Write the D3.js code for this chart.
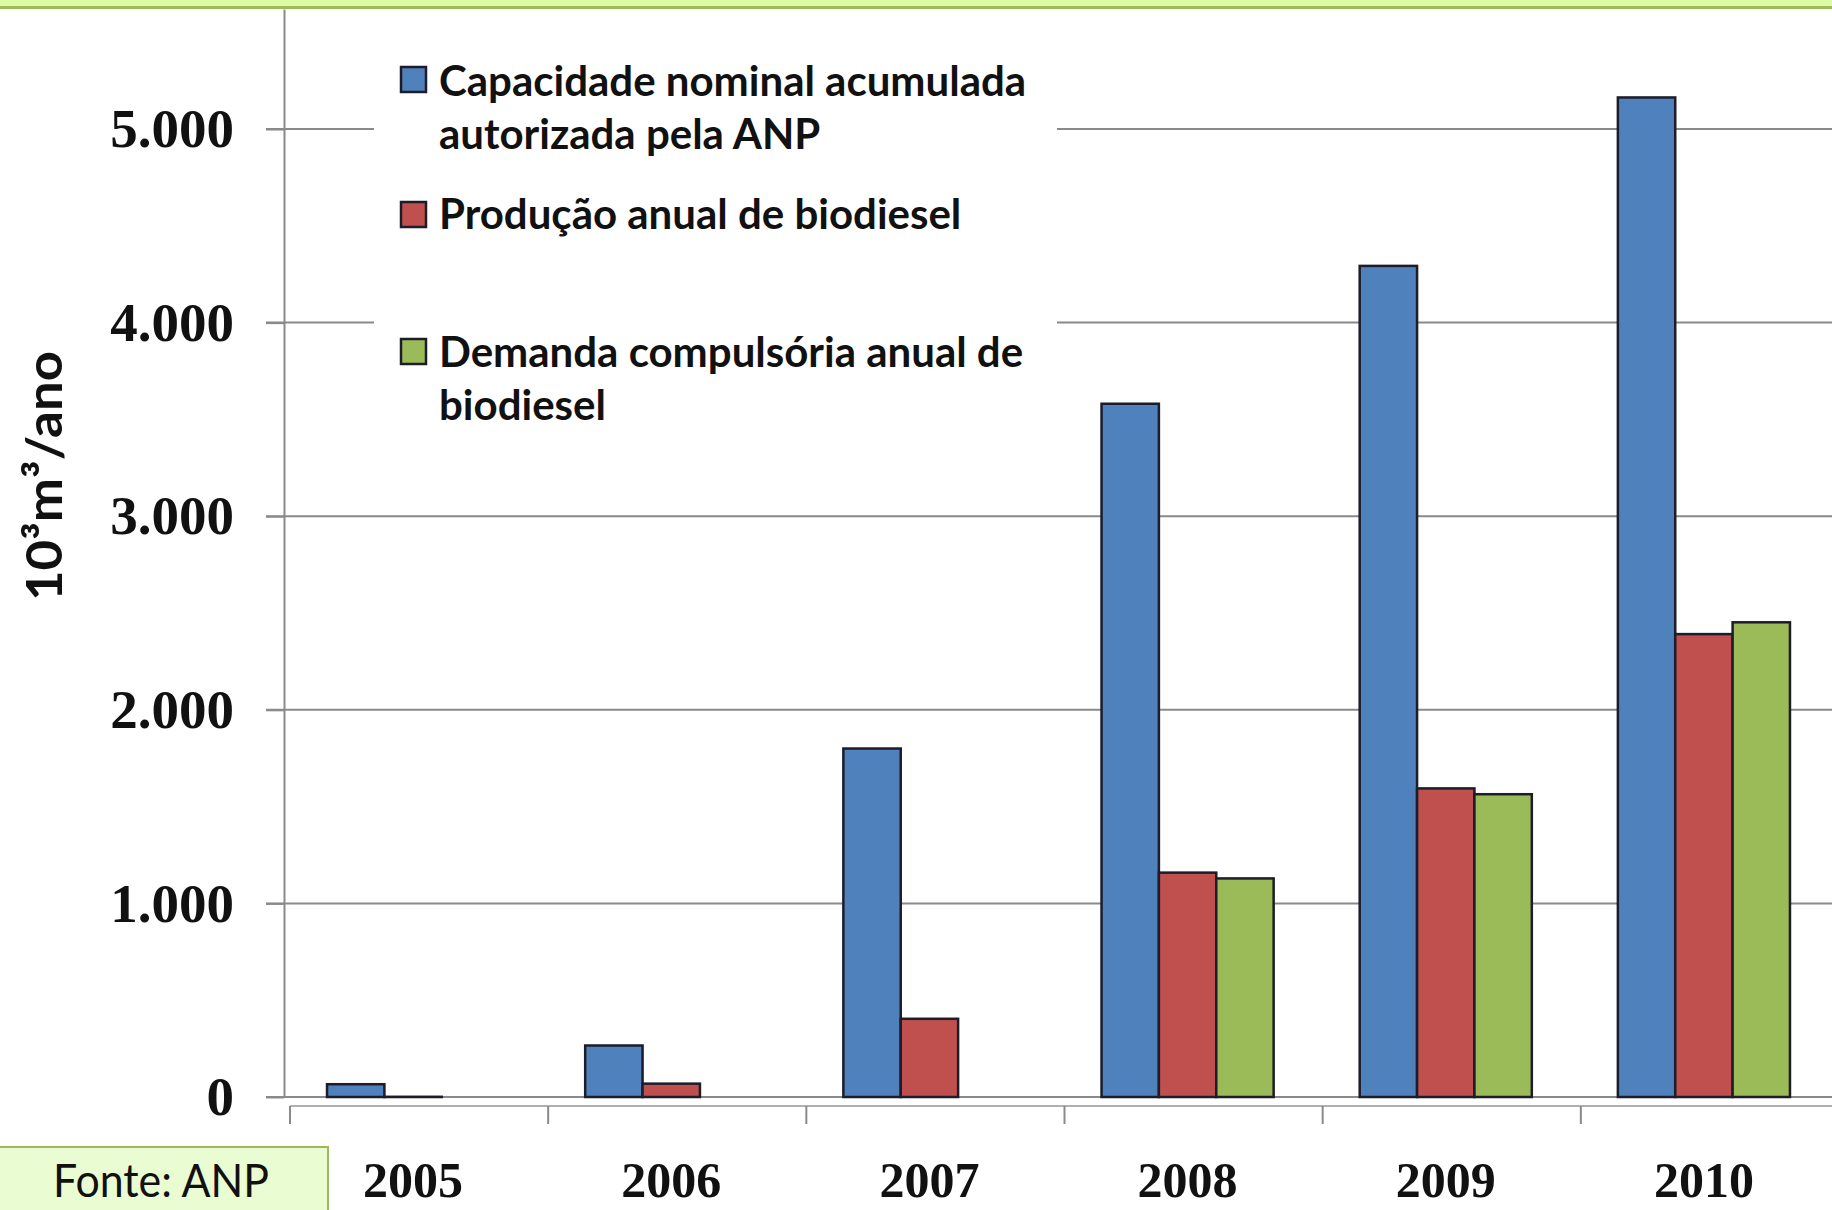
<!DOCTYPE html>
<html>
<head>
<meta charset="utf-8">
<script src="https://cdn.jsdelivr.net/npm/d3@7"></script>
<style>
  body { margin: 0; background: #fff; }
  svg { display: block; }
</style>
</head>
<body>
<div id="chart"></div>
<script>
// chart data (10^3 m3 / ano)
var years = ["2005", "2006", "2007", "2008", "2009", "2010"];
var seriesKeys = ["capacidade", "producao", "demanda"];
var capacidade = [66, 266, 1800, 3581, 4293, 5163];
var producao = [1, 69, 404, 1159, 1594, 2391];
var demanda = [null, null, null, 1129, 1564, 2452];
var yTicks = [0, 1000, 2000, 3000, 4000, 5000];
var legendLines = [
  ["Capacidade nominal acumulada", "autorizada pela ANP"],
  ["Produção anual de biodiesel"],
  ["Demanda compulsória anual de", "biodiesel"]
];

var colors = { capacidade: "#4f81bd", producao: "#c0504d", demanda: "#9bbb59" };

var svgWidth = 1832;
var svgHeight = 1210;

// plot area
var plotLeft = 284;
var plotRight = 1833;
var zeroY = 1097;
var topY = 9;

var svg = d3.select("#chart")
  .append("svg")
  .attr("width", svgWidth)
  .attr("height", svgHeight);

svg.append("rect")
  .attr("width", svgWidth)
  .attr("height", svgHeight)
  .attr("fill", "#fff");

// top green band
svg.append("rect")
  .attr("x", 0).attr("y", 0)
  .attr("width", svgWidth).attr("height", 7)
  .attr("fill", "#dbfaa3");
svg.append("line")
  .attr("x1", 0).attr("x2", svgWidth)
  .attr("y1", 7.5).attr("y2", 7.5)
  .attr("stroke", "#9bbb59")
  .attr("stroke-width", 3);

// scales
var x0 = d3.scaleBand()
  .domain(years)
  .range([plotLeft, plotRight])
  .paddingInner(0)
  .paddingOuter(0);

var x1 = d3.scaleBand()
  .domain(seriesKeys)
  .range([0, x0.bandwidth()])
  .paddingInner(0)
  .paddingOuter(0.75);

var y = d3.scaleLinear()
  .domain([0, 5620])
  .range([zeroY, topY]);

var ptBR = d3.formatLocale({ decimal: ",", thousands: ".", grouping: [3], currency: ["R$", ""] });
var fmt = ptBR.format(",d");

// gridlines
svg.append("g")
  .selectAll("line")
  .data(yTicks)
  .enter()
  .append("line")
  .attr("x1", plotLeft - 18)
  .attr("x2", svgWidth)
  .attr("y1", d => y(d))
  .attr("y2", d => y(d))
  .attr("stroke", "#8a8a8a")
  .attr("stroke-width", 2);

// lower category axis (slightly offset, as in the original)
var catAxisY = 1106;
var catShift = 6;
svg.append("line")
  .attr("x1", plotLeft + catShift)
  .attr("x2", svgWidth)
  .attr("y1", catAxisY)
  .attr("y2", catAxisY)
  .attr("stroke", "#b0b0b0")
  .attr("stroke-width", 2);

svg.append("g")
  .selectAll("line")
  .data(years)
  .enter()
  .append("line")
  .attr("x1", d => x0(d) + catShift)
  .attr("x2", d => x0(d) + catShift)
  .attr("y1", catAxisY)
  .attr("y2", catAxisY + 18)
  .attr("stroke", "#8a8a8a")
  .attr("stroke-width", 2);

// legend background hides the gridlines
svg.append("rect")
  .attr("x", 374).attr("y", 47)
  .attr("width", 683).attr("height", 385)
  .attr("fill", "#fff");

// bars
var rows = years.map(function(yr, i) {
  return { year: yr, capacidade: capacidade[i], producao: producao[i], demanda: demanda[i] };
});

var groups = svg.append("g")
  .selectAll("g")
  .data(rows)
  .enter()
  .append("g")
  .attr("transform", d => `translate(${x0(d.year)},0)`);

groups.selectAll("rect")
  .data(d => seriesKeys.filter(k => d[k] != null).map(k => ({ key: k, value: d[k] })))
  .enter()
  .append("rect")
  .attr("x", d => x1(d.key))
  .attr("y", d => y(d.value))
  .attr("width", x1.bandwidth())
  .attr("height", d => y(0) - y(d.value))
  .attr("fill", d => colors[d.key])
  .attr("stroke", "#1c1c2a")
  .attr("stroke-width", 2.5);

// y axis
var leftAxis = d3.axisLeft(y)
  .tickValues(yTicks)
  .tickSize(18)
  .tickSizeOuter(0)
  .tickPadding(32)
  .tickFormat(fmt);

var yAxis = svg.append("g")
  .attr("transform", `translate(${plotLeft},0)`)
  .call(leftAxis);

yAxis.select(".domain")
  .attr("stroke", "#8a8a8a")
  .attr("stroke-width", 2);
yAxis.selectAll(".tick line")
  .attr("stroke", "#8a8a8a")
  .attr("stroke-width", 2);
yAxis.selectAll(".tick text")
  .attr("fill", "#111")
  .style("font-family", "'Liberation Serif', 'DejaVu Serif', serif")
  .style("font-weight", "bold")
  .style("font-size", "55px");

// y axis title
svg.append("text")
  .attr("transform", "translate(62,476) rotate(-90)")
  .attr("text-anchor", "middle")
  .attr("fill", "#111")
  .attr("textLength", 250)
  .attr("lengthAdjust", "spacingAndGlyphs")
  .style("font-family", "Lato, 'Open Sans', sans-serif")
  .style("font-weight", "bold")
  .style("font-size", "50px")
  .text("10³m³/ano");

// x labels
svg.append("g")
  .selectAll("text")
  .data(years)
  .enter()
  .append("text")
  .attr("x", d => x0(d) + x0.bandwidth() / 2)
  .attr("y", 1197)
  .attr("text-anchor", "middle")
  .attr("fill", "#111")
  .style("font-family", "'Liberation Serif', 'DejaVu Serif', serif")
  .style("font-weight", "bold")
  .style("font-size", "50px")
  .text(d => d);

// legend
var legendSwatchY = [67, 202, 339];
var legendBaseY = [[96, 149], [229], [367, 420]];
var legend = svg.append("g");
seriesKeys.forEach(function(key, i) {
  legend.append("rect")
    .attr("x", 401).attr("y", legendSwatchY[i])
    .attr("width", 25).attr("height", 25)
    .attr("fill", colors[key])
    .attr("stroke", "#1c1c2a")
    .attr("stroke-width", 2.5);
  legendLines[i].forEach(function(line, j) {
    legend.append("text")
      .attr("x", 439)
      .attr("y", legendBaseY[i][j])
      .attr("fill", "#111")
      .style("font-family", "Lato, 'Open Sans', sans-serif")
      .style("font-weight", "bold")
      .style("font-size", "42px")
      .text(line);
  });
});

// source box
svg.append("rect")
  .attr("x", -2).attr("y", 1147)
  .attr("width", 330).attr("height", 70)
  .attr("fill", "#eafcd2")
  .attr("stroke", "#9bbb59")
  .attr("stroke-width", 2);
svg.append("text")
  .attr("x", 161).attr("y", 1197)
  .attr("text-anchor", "middle")
  .attr("fill", "#111")
  .attr("textLength", 216)
  .attr("lengthAdjust", "spacingAndGlyphs")
  .style("font-family", "Lato, 'Open Sans', sans-serif")
  .style("font-size", "46px")
  .text("Fonte: ANP");
</script>
</body>
</html>
